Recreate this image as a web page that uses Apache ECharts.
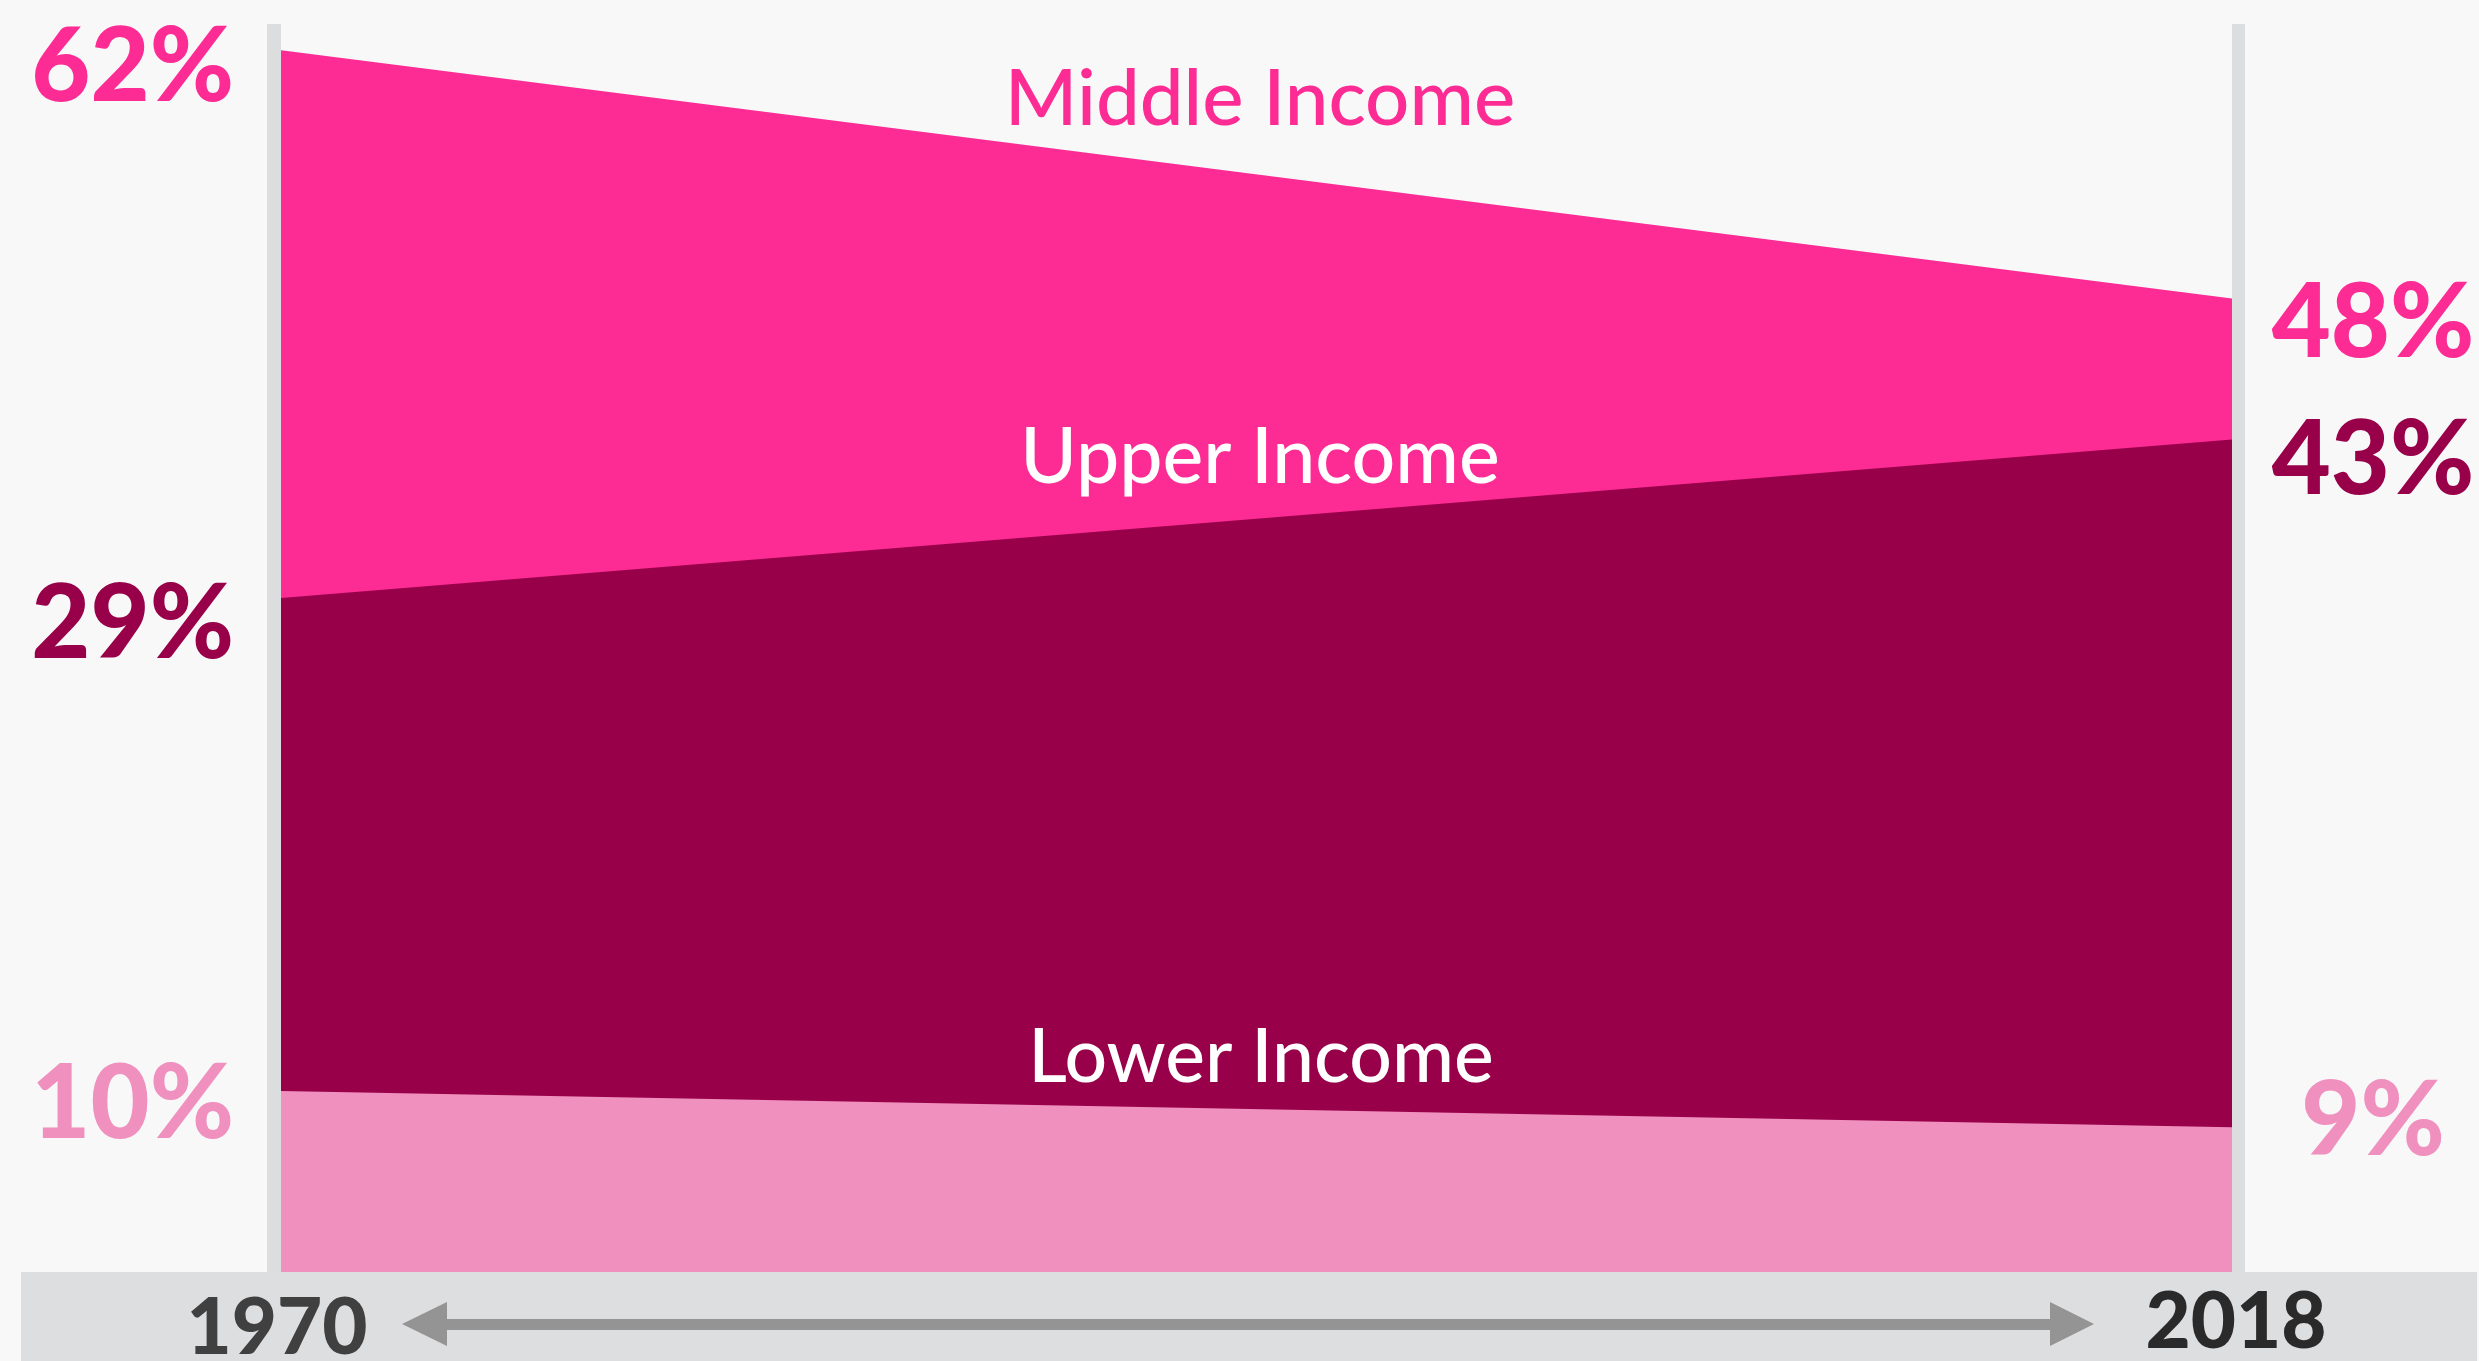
<!DOCTYPE html>
<html>
<head>
<meta charset="utf-8">
<script src="https://cdn.jsdelivr.net/npm/echarts@6/dist/echarts.min.js"></script>
<style>
html,body{margin:0;padding:0;background:#f8f8f8;}
#chart{width:2479px;height:1361px;}
</style>
</head>
<body>
<div id="chart"></div>
<script>
// ---- data ----
const years = [1970, 2018];
const seriesNames = ['Middle Income', 'Upper Income', 'Lower Income'];
// plotted heights of each band's top edge (chart units, 0-100 scale)
const middleTop = [97.9, 78.0];
const upperTop = [54.0, 66.7];
const lowerTop = [14.5, 11.6];
// printed value labels
const startLabels = ['62%', '29%', '10%'];
const endLabels = ['48%', '43%', '9%'];
const yearLabels = ['1970', '2018'];

const colors = { middle: '#fd2b94', upper: '#98004a', lower: '#f090be' };
const numFont = 'Lato';
const txtFont = 'Lato';

const chart = echarts.init(document.getElementById('chart'), null, { renderer: 'canvas' });

function pts(arr) { return years.map((y, i) => [y, arr[i]]); }
function areaSeries(name, arr, color, z) {
  return {
    name: name, type: 'line', data: pts(arr), symbol: 'none', silent: true,
    lineStyle: { width: 0 }, areaStyle: { color: color, opacity: 1 }, z: z,
    animation: false
  };
}

const option = {
  backgroundColor: '#f8f8f8',
  animation: false,
  grid: { left: 281, right: 247, top: 24, bottom: 89 },
  xAxis: { type: 'value', min: years[0], max: years[1], show: false },
  yAxis: { type: 'value', min: 0, max: 100, show: false },
  series: [
    areaSeries(seriesNames[0], middleTop, colors.middle, 2),
    areaSeries(seriesNames[1], upperTop, colors.upper, 3),
    areaSeries(seriesNames[2], lowerTop, colors.lower, 4)
  ],
  graphic: []
};
chart.setOption(option);

// decorations & text
const g = [];
g.push({ type: 'rect', shape: { x: 21, y: 1272, width: 2456, height: 89 }, style: { fill: '#dddee0' }, z: 1 });
g.push({ type: 'rect', shape: { x: 267, y: 24, width: 14, height: 1248 }, style: { fill: '#dcdddf' }, z: 1 });
g.push({ type: 'rect', shape: { x: 2232, y: 24, width: 13, height: 1248 }, style: { fill: '#dcdddf' }, z: 1 });
g.push({ type: 'rect', shape: { x: 445, y: 1319, width: 1607, height: 11 }, style: { fill: '#949494' }, z: 5 });
g.push({ type: 'polygon', shape: { points: [[402, 1324], [447, 1302], [447, 1346]] }, style: { fill: '#949494' }, z: 5 });
g.push({ type: 'polygon', shape: { points: [[2094, 1324], [2050, 1302], [2050, 1346]] }, style: { fill: '#949494' }, z: 5 });

function txt(text, x, y, size, weight, color, align, family) {
  return { type: 'text', x: x, y: y, z: 10, silent: true,
    style: { text: text, fill: color, font: weight + ' ' + size + 'px ' + family, textAlign: align, textVerticalAlign: 'middle' } };
}
const lc = [colors.middle, colors.upper, colors.lower];
const ly = [68, 625, 1105];
startLabels.forEach((t, i) => g.push(txt(t, 234, ly[i], 102, 900, lc[i], 'right', numFont)));
const ry = [324, 461, 1122];
endLabels.forEach((t, i) => g.push(txt(t, 2373, ry[i], 102, 900, lc[i], 'center', numFont)));
g.push(txt(yearLabels[0], 277, 1329, 78, 900, '#404040', 'center', numFont));
g.push(txt(yearLabels[1], 2236, 1323, 78, 900, '#2a2a2a', 'center', numFont));
g.push(txt(seriesNames[0], 1260, 100, 78, 500, colors.middle, 'center', txtFont));
g.push(txt(seriesNames[1], 1260, 458, 77, 500, '#ffffff', 'center', txtFont));
g.push(txt(seriesNames[2], 1261, 1058, 75, 500, '#ffffff', 'center', txtFont));

chart.setOption({ graphic: g });
</script>
</body>
</html>
